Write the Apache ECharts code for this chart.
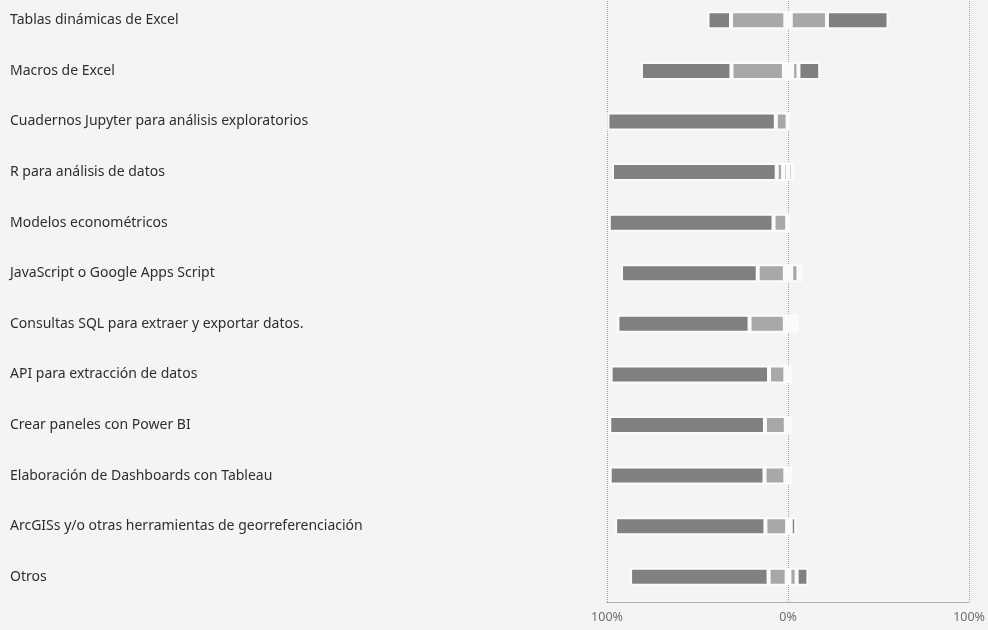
<!DOCTYPE html>
<html>
<head>
<meta charset="utf-8">
<script src="https://cdn.jsdelivr.net/npm/echarts@6/dist/echarts.min.js"></script>
<style>
  html, body { margin: 0; padding: 0; background: #f4f4f6; overflow: hidden; }
  #chart { width: 988px; height: 635px; margin-top: -5px; }
</style>
</head>
<body>
<div id="chart"></div>
<script>
const categories = [
  'Tablas dinámicas de Excel',
  'Macros de Excel',
  'Cuadernos Jupyter para análisis exploratorios',
  'R para análisis de datos',
  'Modelos econométricos',
  'JavaScript o Google Apps Script',
  'Consultas SQL para extraer y exportar datos.',
  'API para extracción de datos',
  'Crear paneles con Power BI',
  'Elaboración de Dashboards con Tableau',
  'ArcGISs y/o otras herramientas de georreferenciación',
  'Otros'
];
// percentages per response level (left side: darkNeg outermost)
const darkNeg  = [13, 50, 93, 91, 91, 75.5, 73, 87.5, 86, 85.5, 83, 76.5];
const lightNeg = [30, 29, 6.5, 3.5, 7.5, 15, 19.5, 9, 11.5, 11.5, 12, 10];
const neutral  = [3, 4.5, 0.5, 5.5, 1, 3.5, 3.5, 3, 2.5, 3, 1, 1.5];
const lightPos = [20, 3.5, 0, 0, 0, 4, 2, 0, 0, 0, 1, 4];
const darkPos  = [34, 12, 0, 0, 0, 2, 2, 0, 0, 0, 3, 6.5];
const tickValues = [-100, 0, 100];

const DARK = '#808080', LIGHT = '#a8a8a8', NEUTRAL = '#d2d2d2';
const border = { borderColor: '#fbfbfb', borderWidth: 2 };

function mk(name, data, color) {
  return {
    name: name, type: 'bar', stack: 'total', barWidth: 18,
    data: data, itemStyle: Object.assign({ color: color }, border),
    emphasis: { disabled: true }, silent: true
  };
}

const chart = echarts.init(document.getElementById('chart'));
chart.setOption({
  backgroundColor: '#f4f4f6',
  animation: false,
  grid: { left: 607, right: 17, top: 0, bottom: 28, containLabel: false },
  xAxis: {
    type: 'value', min: tickValues[0], max: tickValues[2], interval: 100,
    axisLine: { show: true, lineStyle: { color: '#a0a0a0', type: 'dotted' } },
    axisTick: { show: false },
    splitLine: { show: true, lineStyle: { color: '#a0a0a0', type: 'dotted', width: 1 } },
    axisLabel: {
      color: '#6e6e6e', fontSize: 12.5, margin: 9, fontFamily: 'Noto Sans',
      formatter: v => Math.abs(v) + '%'
    }
  },
  yAxis: {
    type: 'category', data: categories, inverse: true,
    axisLine: { show: false },
    axisTick: { show: false },
    axisLabel: {
      align: 'left', margin: 597, color: '#2e2e2e', fontSize: 14,
      fontFamily: 'Noto Sans', padding: [0, 0, 5, 0]
    }
  },
  series: [
    mk('neutralNeg', neutral.map(v => -v / 2), NEUTRAL),
    mk('lightNeg', lightNeg.map(v => -v), LIGHT),
    mk('darkNeg', darkNeg.map(v => -v), DARK),
    mk('neutralPos', neutral.map(v => v / 2), NEUTRAL),
    mk('lightPos', lightPos, LIGHT),
    mk('darkPos', darkPos, DARK)
  ]
});
</script>
</body>
</html>
